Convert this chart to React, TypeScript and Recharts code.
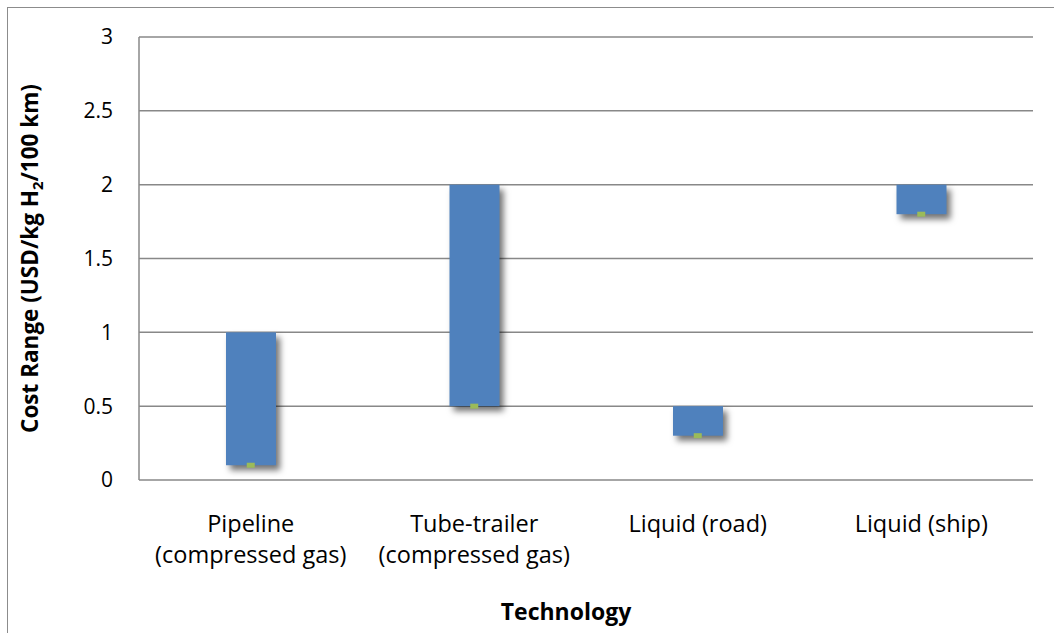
import { Bar, CartesianGrid, ComposedChart, Line, XAxis, YAxis } from 'recharts'

// Hydrogen delivery cost range per technology (USD/kg H2/100 km)
const technologies = ['Pipeline', 'Tube-trailer', 'Liquid (road)', 'Liquid (ship)']
const subLabels = ['(compressed gas)', '(compressed gas)', '', '']
const minCost = [0.1, 0.5, 0.3, 1.8]
const maxCost = [1, 2, 0.5, 2]
const yTicks = [0, 0.5, 1, 1.5, 2, 2.5, 3]

const data = technologies.map((name, i) => ({
  name,
  sub: subLabels[i],
  min: minCost[i],
  range: +(maxCost[i] - minCost[i]).toFixed(2),
}))

const FONT = '"Open Sans", sans-serif'
const GRID = '#888888'

const RangeBar = (props: any) => {
  const { x, y, width, height } = props
  if (!height) return null
  return (
    <rect
      x={x}
      y={y}
      width={width}
      height={height}
      fill="#4f81bd"
      style={{ filter: 'drop-shadow(4px 5px 3px rgba(0,0,0,0.55))' }}
    />
  )
}

const MinMarker = (props: any) => {
  const { cx, cy, index } = props
  return <rect key={index} x={cx - 4} y={cy - 2.5} width={8} height={5} fill="#9bbb59" />
}

const CategoryTick = (props: any) => {
  const { x, y, payload, index } = props
  const sub = data[index]?.sub
  return (
    <text x={x} y={y} textAnchor="middle" fontSize={23.5} fill="#000" fontFamily={FONT}>
      <tspan x={x} dy={44}>{payload.value}</tspan>
      {sub ? <tspan x={x} dy={31}>{sub}</tspan> : null}
    </text>
  )
}

export default function App() {
  return (
    <div style={{ position: 'absolute', left: 0, top: 0, width: 1054, height: 633, background: '#fff' }}>
      <div
        style={{
          position: 'absolute',
          left: 7,
          top: 7,
          right: -10,
          bottom: -10,
          borderLeft: '1.5px solid #8c8c8c',
          borderTop: '1.5px solid #8c8c8c',
        }}
      />
      <ComposedChart
        width={1054}
        height={633}
        data={data}
        margin={{ top: 37, right: 21, bottom: 0, left: 0 }}
        style={{ position: 'absolute', left: 0, top: 0 }}
      >
        <CartesianGrid vertical={false} stroke={GRID} strokeWidth={1.5} />
        <XAxis
          dataKey="name"
          height={153}
          axisLine={false}
          tickLine={false}
          interval={0}
          tick={<CategoryTick />}
          label={({ viewBox }: any) => (
            <text
              x={viewBox.x + viewBox.width / 2 - 20}
              y={viewBox.y + 140}
              textAnchor="middle"
              fontSize={23}
              fontWeight="bold"
              fontFamily={FONT}
              fill="#000"
            >
              Technology
            </text>
          )}
        />
        <YAxis
          width={139}
          domain={[0, 3]}
          ticks={yTicks}
          interval={0}
          tickLine={false}
          tickMargin={20}
          axisLine={{ stroke: GRID, strokeWidth: 1.5 }}
          tick={{ fontSize: 21, fill: '#000', fontFamily: FONT }}
          label={({ viewBox }: any) => {
            const cx = 38
            const cy = viewBox.y + viewBox.height / 2
            return (
              <text
                x={cx}
                y={cy}
                transform={`rotate(-90 ${cx} ${cy})`}
                textAnchor="middle"
                fontSize={22.5}
                fontWeight="bold"
                fontFamily={FONT}
                fill="#000"
              >
                Cost Range (USD/kg H
                <tspan fontSize={15} dy={5}>2</tspan>
                <tspan dy={-5}>/100 km)</tspan>
              </text>
            )
          }}
        />
        <Bar dataKey="min" stackId="a" fill="transparent" barSize={50} isAnimationActive={false} />
        <Bar dataKey="range" stackId="a" barSize={50} shape={<RangeBar />} isAnimationActive={false} />
        <Line
          dataKey="min"
          stroke="none"
          dot={<MinMarker />}
          activeDot={false}
          isAnimationActive={false}
        />
      </ComposedChart>
    </div>
  )
}
